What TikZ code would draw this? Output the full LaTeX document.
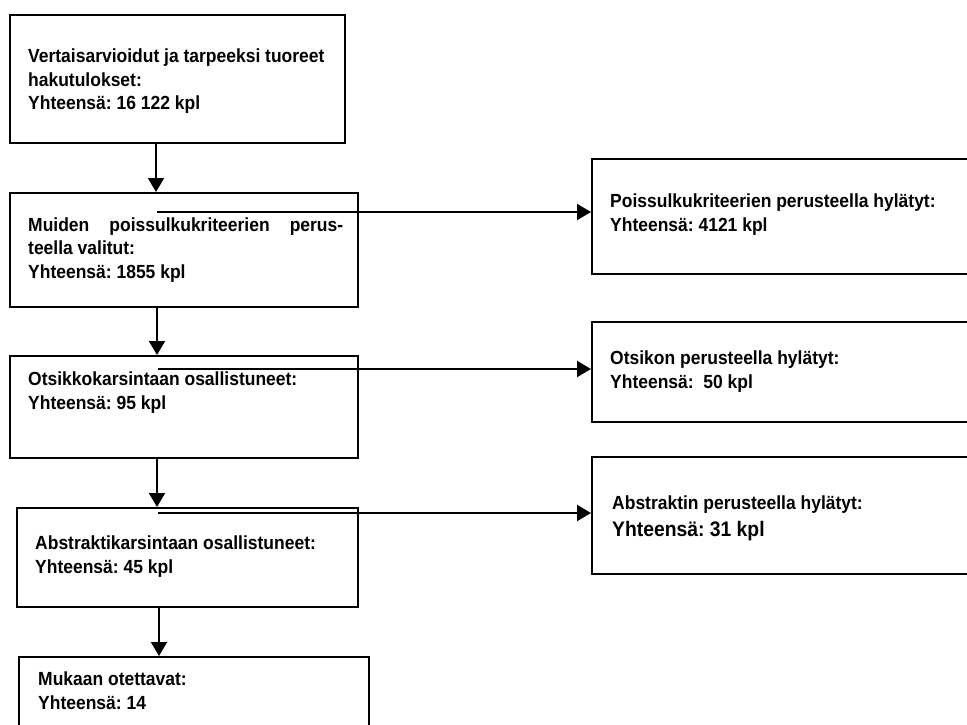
\documentclass[tikz,border=0pt]{standalone}
\usepackage{fontspec}
\setmainfont{Liberation Sans}[FakeStretch=0.92]
\usetikzlibrary{arrows.meta}
\frenchspacing
\begin{document}
\begin{tikzpicture}[x=1pt,y=-1pt,
  box/.style={draw, line width=1.9pt, anchor=north west, inner sep=0pt},
  txt/.style={anchor=north west, inner sep=0pt, align=left, font=\bfseries\fontsize{19}{23.5}\selectfont},
  bigtxt/.style={anchor=north west, inner sep=0pt, align=left, font=\bfseries\fontsize{21}{23.5}\selectfont},
  arr/.style={line width=1.9pt, -{Triangle[length=14pt,width=16pt]}},
  conn/.style={line width=1.9pt, -{Triangle[length=14pt,width=16pt]}}]
\clip (0,0) rectangle (967,724);
\fill[white] (0,0) rectangle (967,724);
% left column boxes
\node[box, minimum width=335pt, minimum height=128pt] (b1) at (9,14) {};
\node[box, minimum width=348pt, minimum height=114pt] (b2) at (9,192) {};
\node[box, minimum width=348pt, minimum height=102pt] (b3) at (9,355) {};
\node[box, minimum width=341pt, minimum height=99pt] (b4) at (16,507) {};
\node[box, minimum width=350pt, minimum height=120pt] (b5) at (18,656) {};
% right column boxes
\node[box, minimum width=500pt, minimum height=115pt] (r1) at (591,158) {};
\node[box, minimum width=500pt, minimum height=100pt] (r2) at (591,321) {};
\node[box, minimum width=500pt, minimum height=117pt] (r3) at (591,456) {};
% texts
\node[txt] (t1) at (28,49) {Vertaisarvioidut ja tarpeeksi tuoreet\\hakutulokset:\\Yhteensä: 16 122 kpl};
\node[txt] (t2) at (28,217.5) {\makebox[315pt][s]{Muiden poissulkukriteerien perus-}\\teella valitut:\\Yhteensä: 1855 kpl};
\node[txt] (t3) at (28,372) {Otsikkokarsintaan osallistuneet:\\Yhteensä: 95 kpl};
\node[txt] (t4) at (35,536) {Abstraktikarsintaan osallistuneet:\\Yhteensä: 45 kpl};
\node[txt] (t5) at (38,672) {Mukaan otettavat:\\Yhteensä: 14};
\node[txt] (tr1) at (610,194) {Poissulkukriteerien perusteella hylätyt:\\Yhteensä: 4121 kpl};
\node[txt] (tr2) at (610,351) {Otsikon perusteella hylätyt:\\Yhteensä:\ \ 50 kpl};
\node[txt] (tr3a) at (612,496) {Abstraktin perusteella hylätyt:};
\node[bigtxt] (tr3b) at (612,521) {Yhteensä: 31 kpl};
% vertical arrows
\coordinate (v1) at (156,0);
\coordinate (v2) at (157,0);
\coordinate (v3) at (157,0);
\coordinate (v4) at (159,0);
\draw[arr] (b1.south -| v1) -- (b2.north -| v1);
\draw[arr] (b2.south -| v2) -- (b3.north -| v2);
\draw[arr] (b3.south -| v3) -- (b4.north -| v3);
\draw[arr] (b4.south -| v4) -- (b5.north -| v4);
% horizontal connectors
\coordinate (h1) at (157,212);
\coordinate (h2) at (158,369);
\coordinate (h3) at (158,513);
\draw[conn] (h1) -- (h1 -| r1.west);
\draw[conn] (h2) -- (h2 -| r2.west);
\draw[conn] (h3) -- (h3 -| r3.west);
\end{tikzpicture}
\end{document}
